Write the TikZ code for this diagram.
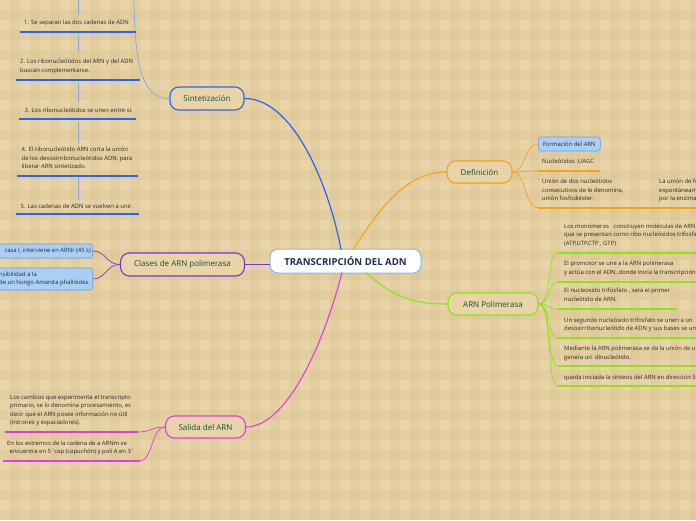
\documentclass[tikz,border=0pt]{standalone}
\usepackage{fontspec}
\setmainfont{Open Sans}
\definecolor{bgc}{HTML}{E8D4A8}
\definecolor{stripe}{HTML}{D2BA88}
\definecolor{cblue}{HTML}{2A64F2}
\definecolor{clblue}{HTML}{86A6EA}
\definecolor{cpurple}{HTML}{7B35D9}
\definecolor{cmag}{HTML}{E23CE0}
\definecolor{corange}{HTML}{F6A21E}
\definecolor{cgreen}{HTML}{8BE41A}
\definecolor{ttl}{HTML}{17503A}
\definecolor{leaft}{HTML}{2A2A2A}
\definecolor{boxfill}{HTML}{A9CFF7}
\definecolor{boxline}{HTML}{6C9CE0}
\definecolor{centerline}{HTML}{8AB8E0}
\definecolor{centertext}{HTML}{1F2F4F}
\tikzset{
  topic/.style={rounded corners=9pt, fill=bgc, line width=1.1pt, text=ttl, font=\fontsize{8}{9}\selectfont, inner sep=0pt, align=center},
  leaf/.style={text=leaft, font=\fontsize{5.9}{8.5}\selectfont, inner sep=0pt, align=left, anchor=north west},
  bluebox/.style={rounded corners=3pt, fill=boxfill, draw=boxline, line width=0.6pt, inner sep=0pt},
  uline/.style={line width=2pt},
  conn/.style={line width=0.7pt},
}
\begin{document}
\begin{tikzpicture}[x=1pt,y=-1pt]
\useasboundingbox (0,0) rectangle (696,520);
\clip (0,0) rectangle (696,520);
\fill[bgc] (0,0) rectangle (696,520);
\foreach \i in {0,20,...,680} {\fill[stripe,opacity=0.22] (\i+10,0) rectangle (\i+20,520);}
\foreach \j in {0,20,...,500} {\fill[stripe,opacity=0.22] (0,\j+10) rectangle (696,\j+20);}

% central node
\node[rounded corners=8pt, fill=white, draw=centerline, line width=1pt, minimum width=151pt, minimum height=24pt, inner sep=0pt, text=centertext, font=\fontsize{9.6}{10}\selectfont\bfseries] (center) at (345.5,261) {TRANSCRIPCIÓN DEL ADN};

% main topics
\node[topic, draw=cblue, minimum width=74pt, minimum height=23pt] (sint) at (207,98.5) {Sintetización};
\node[topic, draw=cpurple, minimum width=124pt, minimum height=23pt] (clases) at (182.5,264.5) {Clases de ARN polimerasa};
\node[topic, draw=cmag, minimum width=80pt, minimum height=22pt] (salida) at (205.5,427) {Salida del ARN};
\node[topic, draw=corange, minimum width=65pt, minimum height=22pt] (def) at (479.5,172) {Definición};
\node[topic, draw=cgreen, minimum width=90pt, minimum height=22pt] (arnpol) at (493,304) {ARN Polimerasa};

% main connectors
\coordinate (cT1) at (341,249.5);
\coordinate (cT2) at (353,249.5);
\coordinate (cB1) at (342,272.5);
\coordinate (cB2) at (366,272.5);
\draw[cblue, line width=1.2pt] (cT1) .. controls (330,190) and (295,98.5) .. (sint.east);
\draw[corange, line width=1.1pt] (cT2) .. controls (385,200) and (410,172) .. (def.west);
\draw[cmag, line width=1.1pt] (cB1) .. controls (322,350) and (285,427) .. (salida.east);
\draw[cgreen, line width=1.1pt] (cB2) .. controls (395,300) and (420,304) .. (arnpol.west);
\draw[cpurple, line width=1.1pt] (center.west |- clases.east) -- (clases.east);

% ---------- Sintetización leaves
\coordinate (sTop) at (134,0);
\draw[clblue, conn] (sint.west) .. controls (140,98.5) and (135,60) .. (sTop);
\node[leaf] (s1) at (24,19.5) {1. Se separan las dos cadenas de ADN};
\node[leaf] (s2) at (20,59) {2. Los ribonucleótidos del ARN y del ADN\\buscan complementarse.};
\node[leaf] (s3) at (24.5,107.5) {3. Los ribonucleótidos se unen entre sí.};
\node[leaf] (s4) at (21.5,147) {4. El ribonucleótido ARN corta la unión\\de los desoxirribonucleótidos ADN, para\\liberar ARN sintetizado.};
\node[leaf] (s5) at (20.5,203.5) {5. Las cadenas de ADN se vuelven a unir.};
\coordinate (u1a) at (20,32); \coordinate (u1b) at (136,32);
\coordinate (u2a) at (16,80); \coordinate (u2b) at (140,80);
\coordinate (u3a) at (19,118.5); \coordinate (u3b) at (136,118.5);
\coordinate (u4a) at (17,175.5); \coordinate (u4b) at (138,175.5);
\coordinate (u5a) at (16,213.5); \coordinate (u5b) at (139,213.5);
\foreach \a/\b in {u1a/u1b,u2a/u2b,u3a/u3b,u4a/u4b,u5a/u5b} {\draw[cblue, uline] (\a) -- (\b);}
\coordinate (v0) at (78,0); \coordinate (v1) at (78,14);
\coordinate (v2) at (78,36); \coordinate (v3) at (78,52);
\coordinate (v4) at (78,83); \coordinate (v5) at (78,102);
\coordinate (v6) at (78,122); \coordinate (v7) at (78,143);
\coordinate (v8) at (78,178); \coordinate (v9) at (78,199);
\foreach \a/\b in {v0/v1,v2/v3,v4/v5,v6/v7,v8/v9} {\draw[clblue, line width=0.9pt] (\a) -- (\b);}

% ---------- Clases leaves
\node[bluebox, minimum width=100pt, minimum height=14pt, anchor=east] (c1) at (93,251) {};
\node[leaf, anchor=east] (c1t) at (91,251) {rasa I, interviene en ARNr (45 s)};
\node[bluebox, minimum width=100pt, minimum height=22pt, anchor=east] (c2) at (93,279) {};
\node[leaf, anchor=west] (c2t) at (-1,279) {nsibilidad a la\\de un hongo Amanita phalloides.};
\draw[cpurple, conn] (clases.west) .. controls (106,264.5) and (106,251) .. (c1.east);
\draw[cpurple, conn] (clases.west) .. controls (106,264.5) and (106,279) .. (c2.east);

% ---------- Salida leaves
\node[leaf] (o1) at (10,394.5) {Los cambios que experimenta el transcripto\\primario, se lo denomina procesamiento, es\\decir que el ARN posee información no útil\\(intrones y espaciadores).};
\node[leaf] (o2) at (7,440.5) {En los extremos de la cadena de a ARNm se\\\ \,encuentra en 5´cap (capuchón) y poli A en 3´};
\coordinate (o1a) at (5,432); \coordinate (o1b) at (138,432);
\coordinate (o2a) at (3,461); \coordinate (o2b) at (140,461);
\draw[cmag, uline] (o1a) -- (o1b);
\draw[cmag, uline] (o2a) -- (o2b);
\draw[cmag, conn] (salida.west) .. controls (152,427) and (150,432) .. (o1b);
\draw[cmag, conn] (salida.west) .. controls (152,427) and (152,461) .. (o2b);

% ---------- Definición leaves
\node[bluebox, minimum width=62pt, minimum height=14pt, anchor=west, font=\fontsize{5.9}{7}\selectfont, text=leaft] (d1) at (538,144) {Formación del ARN};
\node[leaf] (d2) at (542,159) {Nucleótidos :UAGC};
\node[leaf] (d3) at (542,179) {Unión de dos nucleótidos\\consecutivos de le denomina,\\unión fosfodiéster.};
\node[leaf] (d4) at (659,179) {La unión de fosfodiéster\\espontáneamente\\por la enzima};
\coordinate (d2a) at (538,171); \coordinate (d2b) at (600,171);
\coordinate (d3a) at (538,207.5); \coordinate (d3b) at (696,207.5);
\draw[corange, uline] (d2a) -- (d2b);
\draw[corange, uline] (d3a) -- (d3b);
\draw[corange, conn] (def.east) .. controls (526,172) and (524,144) .. (d1.west);
\draw[corange, conn] (def.east) .. controls (524,172) and (526,171) .. (d2a);
\draw[corange, conn] (def.east) .. controls (526,172) and (524,207.5) .. (d3a);

% ---------- ARN Polimerasa leaves
\node[leaf] (p1) at (564,223.5) {Los monómeros \ \ construyen moléculas de ARN\\que se presentan como ribo nucleósidos trifosfatos\\(ATP,UTP,CTP , GTP)};
\node[leaf] (p2) at (564,261) {El promotor se une a la ARN polimerasa\\y actúa con el ADN, donde inicia la transcripción};
\node[leaf] (p3) at (564,288) {El nucleósido trifosfato , será el primer\\nucleótido de ARN.};
\node[leaf] (p4) at (564,317.5) {Un segundo nucleósido trifosfato se unen a un\\desoxirribonucleótido de ADN y sus bases se unen};
\node[leaf] (p5) at (564,346) {Mediante la ARN polimerasa se da la unión de un\\genera un \ dinucleótido.};
\node[leaf] (p6) at (564,375) {queda iniciada la síntesis del ARN en dirección 5´};
\coordinate (p1a) at (558,252.5); \coordinate (p1b) at (696,252.5);
\coordinate (p2a) at (558,282); \coordinate (p2b) at (696,282);
\coordinate (p3a) at (558,309); \coordinate (p3b) at (677,309);
\coordinate (p4a) at (558,338); \coordinate (p4b) at (696,338);
\coordinate (p5a) at (558,366); \coordinate (p5b) at (696,366);
\coordinate (p6a) at (558,386); \coordinate (p6b) at (696,386);
\foreach \a/\b in {p1a/p1b,p2a/p2b,p3a/p3b,p4a/p4b,p5a/p5b,p6a/p6b} {
  \draw[cgreen, uline] (\a) -- (\b);
  \draw[cgreen, conn] (arnpol.east) .. controls +(14,0) and +(-12,0) .. (\a);
}
\end{tikzpicture}
\end{document}
